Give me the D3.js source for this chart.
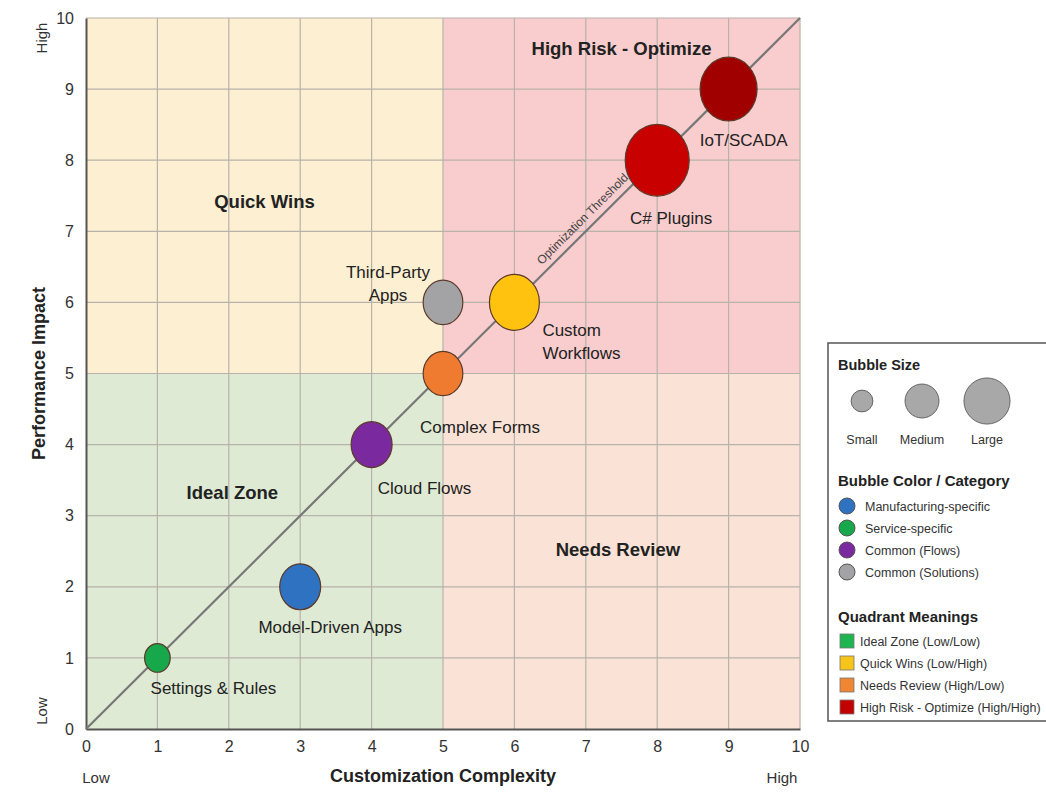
<!DOCTYPE html>
<html>
<head>
<meta charset="utf-8">
<script src="https://cdn.jsdelivr.net/npm/d3@7"></script>
<style>
  body { margin: 0; background: #fff; }
  text { font-family: "Liberation Sans", Arial, sans-serif; }
</style>
</head>
<body>
<div id="chart"></div>
<script>
// bubble data
var names = ["Settings & Rules", "Model-Driven Apps", "Cloud Flows", "Complex Forms", "Third-Party Apps", "Custom Workflows", "C# Plugins", "IoT/SCADA"];
var complexity = [1, 3, 4, 5, 5, 6, 8, 9];
var impact = [1, 2, 4, 5, 6, 6, 8, 9];
var sizes = [4, 6.4, 6.4, 6.2, 6.2, 7.8, 10, 8.9];
var bubbleColors = ["#16a84a", "#2f72c2", "#7a2a9e", "#ee7b30", "#a3a3a5", "#ffc20e", "#c80000", "#a00000"];

var quadrantNames = ["Ideal Zone", "Quick Wins", "Needs Review", "High Risk - Optimize"];
var quadrantFill = ["#deead4", "#fcefd2", "#fae2d6", "#f9cdcd"];
var ticks = [0, 1, 2, 3, 4, 5, 6, 7, 8, 9, 10];

var categoryNames = ["Manufacturing-specific", "Service-specific", "Common (Flows)", "Common (Solutions)"];
var categoryColors = ["#2f72c2", "#16a84a", "#7a2a9e", "#a3a3a5"];
var quadrantLegend = ["Ideal Zone (Low/Low)", "Quick Wins (Low/High)", "Needs Review (High/Low)", "High Risk - Optimize (High/High)"];
var quadrantLegendColors = ["#1db54f", "#f7c41a", "#f08532", "#c20000"];
var sizeLegend = ["Small", "Medium", "Large"];
var sizeLegendValues = [3.4, 5.3, 7.2];

var svg = d3.select("#chart").append("svg")
  .attr("width", 1046).attr("height", 803);

var x = d3.scaleLinear().domain([0, 10]).range([86, 800]);
var y = d3.scaleLinear().domain([0, 10]).range([729, 18]);
var r = d3.scaleLinear().domain([0, 10]).range([0, 32]);

// quadrants
var quads = [[0, 5, 0, 5], [0, 5, 5, 10], [5, 10, 0, 5], [5, 10, 5, 10]];
svg.selectAll("rect.quad").data(quads).enter().append("rect")
  .attr("class", "quad")
  .attr("x", function(d) { return x(d[0]); })
  .attr("y", function(d) { return y(d[3]); })
  .attr("width", function(d) { return x(d[1]) - x(d[0]); })
  .attr("height", function(d) { return y(d[2]) - y(d[3]); })
  .attr("fill", function(d, i) { return quadrantFill[i]; });

// grid
var grid = svg.append("g");
grid.selectAll("line.v").data(ticks.slice(1)).enter().append("line")
  .attr("x1", function(d) { return x(d); }).attr("x2", function(d) { return x(d); })
  .attr("y1", y(0)).attr("y2", y(10))
  .attr("stroke", "#b7b2aa").attr("stroke-width", 1.2);
grid.selectAll("line.h").data(ticks.slice(1)).enter().append("line")
  .attr("y1", function(d) { return y(d); }).attr("y2", function(d) { return y(d); })
  .attr("x1", x(0)).attr("x2", x(10))
  .attr("stroke", "#b7b2aa").attr("stroke-width", 1.2);

// axes
var xAxis = svg.append("g").attr("transform", "translate(0," + y(0) + ")")
  .call(d3.axisBottom(x).tickValues(ticks).tickSize(0).tickPadding(12));
var yAxis = svg.append("g").attr("transform", "translate(" + x(0) + ",0)")
  .call(d3.axisLeft(y).tickValues(ticks).tickSize(0).tickPadding(12));
[xAxis, yAxis].forEach(function(a) {
  a.select(".domain").attr("stroke", "#555").attr("stroke-width", 2);
  a.selectAll("text").attr("font-size", 16).attr("fill", "#333")
    .style("font-family", "Liberation Sans, Arial, sans-serif");
});

// diagonal threshold
svg.append("line")
  .attr("x1", x(0)).attr("y1", y(0)).attr("x2", x(10)).attr("y2", y(10))
  .attr("stroke", "#777").attr("stroke-width", 2.2);
var ang = Math.atan2(y(10) - y(0), x(10) - x(0)) * 180 / Math.PI;
svg.append("text")
  .attr("transform", "translate(" + (x(7.05) - 4) + "," + (y(7.05) - 6) + ") rotate(" + ang + ")")
  .attr("text-anchor", "middle").attr("font-size", 12).attr("fill", "#444")
  .text("Optimization Threshold");

// quadrant titles
var qPos = [[2.05, 3.3], [2.5, 7.4], [7.45, 2.5], [7.5, 9.55]];
svg.selectAll("text.qlab").data(quadrantNames).enter().append("text")
  .attr("x", function(d, i) { return x(qPos[i][0]); })
  .attr("y", function(d, i) { return y(qPos[i][1]); })
  .attr("text-anchor", "middle").attr("dominant-baseline", "middle")
  .attr("font-size", 18.5).attr("font-weight", "bold").attr("fill", "#222")
  .text(function(d) { return d; });

// bubbles
var idx = d3.range(names.length);
svg.selectAll("ellipse.bub").data(idx).enter().append("ellipse")
  .attr("cx", function(i) { return x(complexity[i]); })
  .attr("cy", function(i) { return y(impact[i]); })
  .attr("rx", function(i) { return r(sizes[i]); })
  .attr("ry", function(i) { return r(sizes[i]) * 1.12; })
  .attr("fill", function(i) { return bubbleColors[i]; })
  .attr("stroke", "#5a3a2a").attr("stroke-width", 1.2);

// bubble labels: [dx, dy of first baseline, anchor, lines]
var labelOff = [
  [56, 36, "middle", ["Settings & Rules"]],
  [30, 46, "middle", ["Model-Driven Apps"]],
  [53, 49, "middle", ["Cloud Flows"]],
  [37, 59, "middle", ["Complex Forms"]],
  [-55, -24, "middle", ["Third-Party", "Apps"]],
  [28, 34, "start", ["Custom", "Workflows"]],
  [14, 64, "middle", ["C# Plugins"]],
  [15, 57, "middle", ["IoT/SCADA"]]
];
idx.forEach(function(i) {
  var lx = x(complexity[i]) + labelOff[i][0];
  var t = svg.append("text")
    .attr("x", lx)
    .attr("y", y(impact[i]) + labelOff[i][1])
    .attr("text-anchor", labelOff[i][2])
    .attr("font-size", 17).attr("fill", "#222");
  labelOff[i][3].forEach(function(p, k) {
    t.append("tspan").attr("x", lx).attr("dy", k === 0 ? 0 : 23).text(p);
  });
});

// axis titles
svg.append("text").attr("x", x(5)).attr("y", 782).attr("text-anchor", "middle")
  .attr("font-size", 18).attr("font-weight", "bold").attr("fill", "#222")
  .text("Customization Complexity");
svg.append("text").attr("transform", "translate(45," + y(5) + ") rotate(-90)")
  .attr("text-anchor", "middle").attr("font-size", 18).attr("font-weight", "bold").attr("fill", "#222")
  .text("Performance Impact");
svg.append("text").attr("x", x(0) + 10).attr("y", 783).attr("text-anchor", "middle")
  .attr("font-size", 15).attr("fill", "#333").text("Low");
svg.append("text").attr("x", x(10) - 18).attr("y", 783).attr("text-anchor", "middle")
  .attr("font-size", 15).attr("fill", "#333").text("High");
svg.append("text").attr("transform", "translate(47," + (y(10) + 20) + ") rotate(-90)")
  .attr("text-anchor", "middle").attr("font-size", 15).attr("fill", "#333").text("High");
svg.append("text").attr("transform", "translate(47," + (y(0) - 18) + ") rotate(-90)")
  .attr("text-anchor", "middle").attr("font-size", 15).attr("fill", "#333").text("Low");

// legend
var lg = svg.append("g").attr("transform", "translate(828,343)");
lg.append("rect").attr("x", 0).attr("y", 0).attr("width", 230).attr("height", 378)
  .attr("fill", "#fff").attr("stroke", "#555").attr("stroke-width", 1.5);
lg.append("text").attr("x", 10).attr("y", 27).attr("font-size", 14.5).attr("font-weight", "bold")
  .attr("fill", "#222").text("Bubble Size");
var sx = [34, 94, 159];
sizeLegend.forEach(function(s, i) {
  lg.append("circle").attr("cx", sx[i]).attr("cy", 58).attr("r", r(sizeLegendValues[i]))
    .attr("fill", "#a8a8a8").attr("stroke", "#666").attr("stroke-width", 1);
  lg.append("text").attr("x", sx[i]).attr("y", 101).attr("text-anchor", "middle")
    .attr("font-size", 12.5).attr("fill", "#333").text(s);
});
lg.append("text").attr("x", 10).attr("y", 143).attr("font-size", 15).attr("font-weight", "bold")
  .attr("fill", "#222").text("Bubble Color / Category");
categoryNames.forEach(function(c, i) {
  var cy = 163 + i * 22;
  lg.append("circle").attr("cx", 19).attr("cy", cy).attr("r", 8)
    .attr("fill", categoryColors[i]).attr("stroke", "#555").attr("stroke-width", 1);
  lg.append("text").attr("x", 37).attr("y", cy + 5).attr("font-size", 12.5).attr("fill", "#333").text(c);
});
lg.append("text").attr("x", 10).attr("y", 279).attr("font-size", 15).attr("font-weight", "bold")
  .attr("fill", "#222").text("Quadrant Meanings");
quadrantLegend.forEach(function(q, i) {
  var cy = 298 + i * 22;
  lg.append("rect").attr("x", 12).attr("y", cy - 7).attr("width", 14).attr("height", 14)
    .attr("fill", quadrantLegendColors[i]).attr("stroke", "#777").attr("stroke-width", 0.8);
  lg.append("text").attr("x", 32).attr("y", cy + 5).attr("font-size", 12.5).attr("fill", "#333").text(q);
});
</script>
</body>
</html>
